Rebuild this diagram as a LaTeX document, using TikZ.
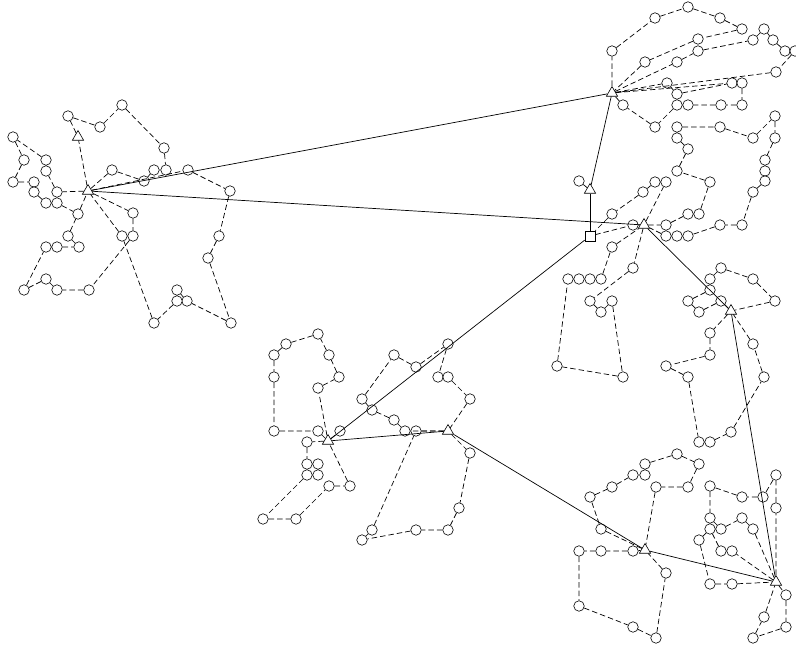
\documentclass[tikz,border=0pt]{standalone}
\usepackage{tikz}
\usetikzlibrary{shapes.geometric}
\tikzset{
  cnode/.style={circle, draw, fill=white, minimum size=10.5pt, inner sep=0pt, line width=0.6pt},
  hnode/.style={regular polygon, regular polygon sides=3, draw, fill=white, minimum size=13pt, inner sep=0pt, line width=0.6pt},
  dnode/.style={rectangle, draw, fill=white, minimum size=10pt, inner sep=0pt, line width=0.6pt},
  rline/.style={line width=0.7pt, dash pattern=on 5.5pt off 3pt},
  hline/.style={line width=0.7pt}
}

\begin{document}
\begin{tikzpicture}[x=1pt, y=-1pt]
    \useasboundingbox (0,0) rectangle (796,647);
    \node[dnode] (d) at (590,236) {};
    \node[hnode] (h1) at (88,191) {};
    \node[hnode] (h2) at (612,93) {};
    \node[hnode] (h3) at (644,225) {};
    \node[hnode] (h4) at (590,190) {};
    \node[hnode] (h5) at (731,311) {};
    \node[hnode] (h6) at (776,582) {};
    \node[hnode] (h7) at (328,441) {};
    \node[hnode] (h8) at (448,431) {};
    \node[hnode] (h9) at (645,550) {};
    \node[hnode] (h10) at (78,137) {};
    \node[cnode] (a1) at (68,116) {};
    \node[cnode] (a2) at (100,127) {};
    \node[cnode] (a3) at (122,105) {};
    \node[cnode] (a4) at (164,148) {};
    \node[cnode] (a5) at (166,170) {};
    \node[cnode] (a6) at (154,170) {};
    \node[cnode] (a7) at (144,181) {};
    \node[cnode] (a8) at (112,170) {};
    \node[cnode] (a9) at (188,170) {};
    \node[cnode] (a10) at (230,191) {};
    \node[cnode] (a11) at (219,236) {};
    \node[cnode] (a12) at (208,258) {};
    \node[cnode] (a13) at (231,323) {};
    \node[cnode] (a14) at (187,301) {};
    \node[cnode] (a15) at (177,290) {};
    \node[cnode] (a16) at (177,301) {};
    \node[cnode] (a17) at (154,323) {};
    \node[cnode] (a18) at (122,236) {};
    \node[cnode] (a19) at (133,213) {};
    \node[cnode] (a20) at (133,236) {};
    \node[cnode] (a21) at (89,290) {};
    \node[cnode] (a22) at (57,290) {};
    \node[cnode] (a23) at (46,279) {};
    \node[cnode] (a24) at (24,290) {};
    \node[cnode] (a25) at (46,247) {};
    \node[cnode] (a26) at (57,247) {};
    \node[cnode] (a27) at (79,247) {};
    \node[cnode] (a28) at (68,236) {};
    \node[cnode] (a29) at (78,214) {};
    \node[cnode] (a30) at (57,192) {};
    \node[cnode] (a31) at (46,171) {};
    \node[cnode] (a32) at (46,160) {};
    \node[cnode] (a33) at (13,137) {};
    \node[cnode] (a34) at (24,160) {};
    \node[cnode] (a35) at (13,182) {};
    \node[cnode] (a36) at (34,182) {};
    \node[cnode] (a37) at (34,192) {};
    \node[cnode] (a38) at (46,203) {};
    \node[cnode] (a39) at (57,203) {};
    \node[cnode] (b1) at (612,51) {};
    \node[cnode] (b2) at (655,18) {};
    \node[cnode] (b3) at (688,7) {};
    \node[cnode] (b4) at (720,18) {};
    \node[cnode] (b5) at (742,29) {};
    \node[cnode] (b6) at (698,39) {};
    \node[cnode] (b7) at (645,62) {};
    \node[cnode] (b8) at (677,62) {};
    \node[cnode] (b9) at (698,51) {};
    \node[cnode] (b10) at (753,40) {};
    \node[cnode] (b11) at (764,29) {};
    \node[cnode] (b12) at (773,40) {};
    \node[cnode] (b13) at (785,51) {};
    \node[cnode] (b14) at (795,51) {};
    \node[cnode] (b15) at (776,72) {};
    \node[cnode] (b16) at (667,83) {};
    \node[cnode] (b17) at (677,94) {};
    \node[cnode] (b18) at (732,83) {};
    \node[cnode] (b19) at (742,83) {};
    \node[cnode] (b20) at (742,105) {};
    \node[cnode] (b21) at (721,105) {};
    \node[cnode] (b22) at (688,105) {};
    \node[cnode] (b23) at (677,105) {};
    \node[cnode] (b24) at (655,127) {};
    \node[cnode] (b25) at (623,105) {};
    \node[cnode] (c1) at (677,127) {};
    \node[cnode] (c2) at (720,127) {};
    \node[cnode] (c3) at (753,138) {};
    \node[cnode] (c4) at (775,116) {};
    \node[cnode] (c5) at (775,138) {};
    \node[cnode] (c6) at (765,160) {};
    \node[cnode] (c7) at (765,171) {};
    \node[cnode] (c8) at (765,181) {};
    \node[cnode] (c9) at (753,192) {};
    \node[cnode] (c10) at (742,225) {};
    \node[cnode] (c11) at (720,225) {};
    \node[cnode] (c12) at (688,236) {};
    \node[cnode] (c13) at (677,236) {};
    \node[cnode] (c14) at (666,236) {};
    \node[cnode] (c15) at (677,138) {};
    \node[cnode] (c16) at (688,149) {};
    \node[cnode] (c17) at (677,171) {};
    \node[cnode] (c18) at (710,182) {};
    \node[cnode] (c19) at (699,214) {};
    \node[cnode] (c20) at (688,214) {};
    \node[cnode] (c21) at (666,225) {};
    \node[cnode] (c22) at (666,182) {};
    \node[cnode] (c23) at (655,182) {};
    \node[cnode] (c24) at (643,192) {};
    \node[cnode] (c25) at (612,214) {};
    \node[cnode] (c26) at (633,225) {};
    \node[cnode] (c27) at (633,268) {};
    \node[cnode] (c28) at (590,301) {};
    \node[cnode] (c29) at (601,312) {};
    \node[cnode] (c30) at (612,301) {};
    \node[cnode] (c31) at (623,377) {};
    \node[cnode] (c32) at (557,366) {};
    \node[cnode] (c33) at (568,279) {};
    \node[cnode] (c34) at (579,279) {};
    \node[cnode] (c35) at (590,279) {};
    \node[cnode] (c36) at (601,279) {};
    \node[cnode] (c37) at (612,247) {};
    \node[cnode] (c38) at (579,181) {};
    \node[cnode] (e1) at (721,301) {};
    \node[cnode] (e2) at (699,312) {};
    \node[cnode] (e3) at (688,301) {};
    \node[cnode] (e4) at (710,290) {};
    \node[cnode] (e5) at (710,279) {};
    \node[cnode] (e6) at (721,268) {};
    \node[cnode] (e7) at (753,279) {};
    \node[cnode] (e8) at (775,301) {};
    \node[cnode] (e9) at (710,333) {};
    \node[cnode] (e10) at (710,355) {};
    \node[cnode] (e11) at (666,366) {};
    \node[cnode] (e12) at (688,377) {};
    \node[cnode] (e13) at (699,442) {};
    \node[cnode] (e14) at (710,442) {};
    \node[cnode] (e15) at (731,432) {};
    \node[cnode] (e16) at (764,377) {};
    \node[cnode] (e17) at (753,344) {};
    \node[cnode] (f1) at (318,388) {};
    \node[cnode] (f2) at (339,377) {};
    \node[cnode] (f3) at (329,355) {};
    \node[cnode] (f4) at (318,334) {};
    \node[cnode] (f5) at (286,344) {};
    \node[cnode] (f6) at (274,355) {};
    \node[cnode] (f7) at (274,377) {};
    \node[cnode] (f8) at (274,431) {};
    \node[cnode] (f9) at (318,431) {};
    \node[cnode] (f10) at (307,442) {};
    \node[cnode] (f11) at (307,464) {};
    \node[cnode] (f12) at (318,464) {};
    \node[cnode] (f13) at (318,475) {};
    \node[cnode] (f14) at (307,475) {};
    \node[cnode] (f15) at (263,519) {};
    \node[cnode] (f16) at (296,519) {};
    \node[cnode] (f17) at (329,486) {};
    \node[cnode] (f18) at (350,486) {};
    \node[cnode] (f19) at (340,431) {};
    \node[cnode] (g1) at (416,431) {};
    \node[cnode] (g2) at (405,431) {};
    \node[cnode] (g3) at (394,420) {};
    \node[cnode] (g4) at (372,410) {};
    \node[cnode] (g5) at (362,399) {};
    \node[cnode] (g6) at (394,355) {};
    \node[cnode] (g7) at (416,367) {};
    \node[cnode] (g8) at (448,344) {};
    \node[cnode] (g9) at (438,377) {};
    \node[cnode] (g10) at (448,377) {};
    \node[cnode] (g11) at (470,399) {};
    \node[cnode] (g12) at (470,453) {};
    \node[cnode] (g13) at (459,508) {};
    \node[cnode] (g14) at (448,530) {};
    \node[cnode] (g15) at (416,530) {};
    \node[cnode] (g16) at (372,530) {};
    \node[cnode] (g17) at (362,540) {};
    \node[cnode] (k1) at (601,529) {};
    \node[cnode] (k2) at (590,497) {};
    \node[cnode] (k3) at (612,487) {};
    \node[cnode] (k4) at (633,475) {};
    \node[cnode] (k5) at (645,475) {};
    \node[cnode] (k6) at (645,464) {};
    \node[cnode] (k7) at (677,454) {};
    \node[cnode] (k8) at (699,464) {};
    \node[cnode] (k9) at (688,487) {};
    \node[cnode] (k10) at (656,487) {};
    \node[cnode] (k11) at (633,551) {};
    \node[cnode] (k12) at (601,551) {};
    \node[cnode] (k13) at (579,551) {};
    \node[cnode] (k14) at (579,606) {};
    \node[cnode] (k15) at (633,627) {};
    \node[cnode] (k16) at (656,638) {};
    \node[cnode] (k17) at (666,573) {};
    \node[cnode] (m1) at (776,508) {};
    \node[cnode] (m2) at (776,475) {};
    \node[cnode] (m3) at (763,497) {};
    \node[cnode] (m4) at (742,497) {};
    \node[cnode] (m5) at (710,486) {};
    \node[cnode] (m6) at (710,518) {};
    \node[cnode] (m7) at (710,529) {};
    \node[cnode] (m8) at (721,529) {};
    \node[cnode] (m9) at (742,518) {};
    \node[cnode] (m10) at (753,529) {};
    \node[cnode] (m11) at (732,551) {};
    \node[cnode] (m12) at (721,551) {};
    \node[cnode] (m13) at (699,540) {};
    \node[cnode] (m14) at (710,584) {};
    \node[cnode] (m15) at (732,584) {};
    \node[cnode] (m16) at (786,595) {};
    \node[cnode] (m17) at (786,627) {};
    \node[cnode] (m18) at (753,638) {};
    \node[cnode] (m19) at (764,617) {};
    \draw[hline] (h1) -- (h2);
    \draw[hline] (h1) -- (h3);
    \draw[hline] (h2) -- (h4);
    \draw[hline] (h4) -- (d);
    \draw[hline] (d) -- (h7);
    \draw[hline] (h3) -- (h5);
    \draw[hline] (h5) -- (h6);
    \draw[hline] (h7) -- (h8);
    \draw[hline] (h8) -- (h9);
    \draw[hline] (h9) -- (h6);
    \draw[rline] (h1) -- (h10) -- (a1) -- (a2) -- (a3) -- (a4) -- (a5) -- (a6) -- (a7) -- (a8) -- (h1);
    \draw[rline] (h1) -- (a9) -- (a10) -- (a11) -- (a12) -- (a13) -- (a14) -- (a15) -- (a16) -- (a17) -- (a18) -- (h1);
    \draw[rline] (h1) -- (a19) -- (a20) -- (a21) -- (a22) -- (a23) -- (a24) -- (a25) -- (a26) -- (a27) -- (a28) -- (a29) -- (h1);
    \draw[rline] (h1) -- (a30) -- (a31) -- (a32) -- (a33) -- (a34) -- (a35) -- (a36) -- (a37) -- (a38) -- (a39) -- (a29);
    \draw[rline] (h2) -- (b1) -- (b2) -- (b3) -- (b4) -- (b5) -- (b6) -- (b7) -- (h2);
    \draw[rline] (h2) -- (b8) -- (b9) -- (b10) -- (b11) -- (b12) -- (b13) -- (b14) -- (b15) -- (h2);
    \draw[rline] (h2) -- (b18) -- (b19) -- (b20) -- (b21) -- (b22) -- (b23) -- (b24) -- (b25) -- (h2);
    \draw[rline] (h2) -- (b16) -- (b17) -- (b18);
    \draw[rline] (h3) -- (c21) -- (c20) -- (c19) -- (c18) -- (c17) -- (c16) -- (c15) -- (c1) -- (c2) -- (c3) -- (c4) -- (c5) -- (c6) -- (c7) -- (c8) -- (c9) -- (c10) -- (c11) -- (c12) -- (c13) -- (c14) -- (h3);
    \draw[rline] (h3) -- (c22) -- (c23) -- (c24) -- (c25) -- (d) -- (c26) -- (h3);
    \draw[rline] (h3) -- (c27) -- (c28) -- (c29) -- (c30) -- (c31) -- (c32) -- (c33) -- (c34) -- (c35) -- (c36) -- (c37) -- (h3);
    \draw[rline] (h4) -- (c38);
    \draw[rline] (h5) -- (e1) -- (e2) -- (e3) -- (e4) -- (e5) -- (e6) -- (e7) -- (e8) -- (h5);
    \draw[rline] (h5) -- (e9) -- (e10) -- (e11) -- (e12) -- (e13) -- (e14) -- (e15) -- (e16) -- (e17) -- (h5);
    \draw[rline] (h7) -- (f1) -- (f2) -- (f3) -- (f4) -- (f5) -- (f6) -- (f7) -- (f8) -- (f9) -- (h7);
    \draw[rline] (h7) -- (f10) -- (f11) -- (f12) -- (f13) -- (f14) -- (f15) -- (f16) -- (f17) -- (f18) -- (h7);
    \draw[rline] (h7) -- (f19);
    \draw[rline] (h8) -- (g2) -- (g3) -- (g4) -- (g5) -- (g6) -- (g7) -- (g8) -- (g9) -- (g10) -- (g11) -- (h8);
    \draw[rline] (h8) -- (g12) -- (g13) -- (g14) -- (g15) -- (g17) -- (g16) -- (g1) -- (h8);
    \draw[rline] (h9) -- (k1) -- (k2) -- (k3) -- (k4) -- (k5) -- (k6) -- (k7) -- (k8) -- (k9) -- (k10) -- (h9);
    \draw[rline] (h9) -- (k11) -- (k12) -- (k13) -- (k14) -- (k15) -- (k16) -- (k17) -- (h9);
    \draw[rline] (h6) -- (m1) -- (m2) -- (m3) -- (m4) -- (m5) -- (m6) -- (m8) -- (m9) -- (m10) -- (h6);
    \draw[rline] (h6) -- (m11) -- (m12) -- (m7) -- (m13) -- (m14) -- (m15) -- (h6);
    \draw[rline] (h6) -- (m16) -- (m17) -- (m18) -- (m19) -- (h6);
\end{tikzpicture}
\end{document}
